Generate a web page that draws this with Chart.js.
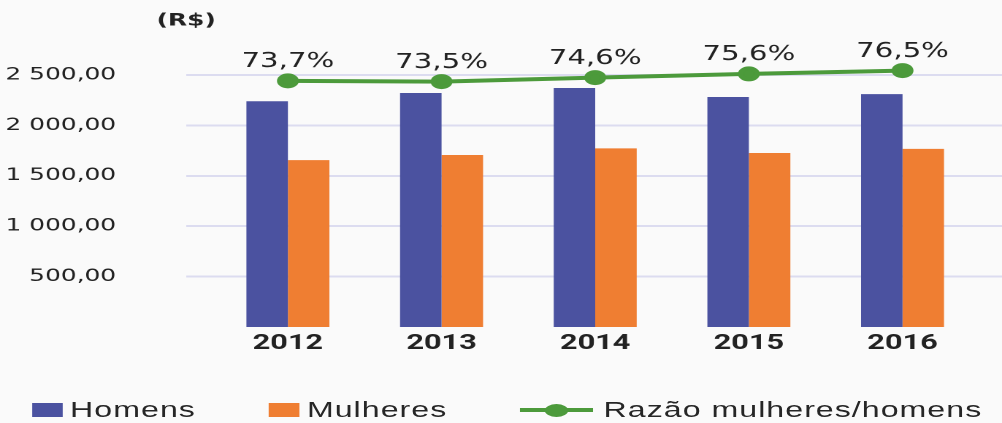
<!DOCTYPE html>
<html lang="pt-BR">
<head>
<meta charset="utf-8">
<title>Rendimento médio - homens e mulheres</title>
<script src="https://cdn.jsdelivr.net/npm/chart.js@4"></script>
<style>
  html, body { margin: 0; padding: 0; background: #fafafa; overflow: hidden; }
  /* o original vem esticado na horizontal: desenho em 686px e estico para 1002px */
  #quadro { position: relative; width: 686px; height: 423px; transform: scaleX(1.4606); transform-origin: 0 0; }
  #area { position: absolute; left: 0; top: 0; width: 686px; height: 423px; }
  #legenda { position: absolute; left: 22px; top: 397px; display: flex; align-items: center;
             font: 22px "Liberation Sans", Arial, sans-serif; letter-spacing: 0.7px; color: #262626; white-space: nowrap; }
  #legenda .caixa { display: inline-block; width: 21px; height: 14px; margin-right: 5px; }
  #legenda .texto { margin-right: 50px; }
  #legenda .texto:last-child { margin-right: 0; }
  #legenda .linha { position: relative; display: inline-block; width: 50px; height: 14px; margin-right: 7px; }
  #legenda .linha::before { content: ""; position: absolute; left: 0; right: 0; top: 5px; height: 4px; background: var(--cor); }
  #legenda .linha i { position: absolute; left: 17px; top: 0.5px; width: 16px; height: 13px; border-radius: 50%; background: var(--cor); }
</style>
</head>
<body>
<div id="quadro">
  <div id="area"><canvas id="grafico"></canvas></div>
  <div id="legenda">
    <span class="caixa" id="corHomens"></span><span class="texto">Homens</span>
    <span class="caixa" id="corMulheres"></span><span class="texto">Mulheres</span>
    <span class="linha" id="corRazao"><i></i></span><span class="texto">Razão mulheres/homens</span>
  </div>
</div>
<script>
const anos = ["2012", "2013", "2014", "2015", "2016"];
const homens = [2240, 2321, 2371, 2282, 2310];
const mulheres = [1655, 1706, 1772, 1726, 1767];
const razao = [73.7, 73.5, 74.6, 75.6, 76.5];
const ticksY = [500, 1000, 1500, 2000, 2500];

const AZUL = "#4b52a0";
const LARANJA = "#ef7e32";
const VERDE = "#4c9a3b";
const GRADE = "#dcdcf0";
const TEXTO = "#222";

document.getElementById("corHomens").style.background = AZUL;
document.getElementById("corMulheres").style.background = LARANJA;
document.getElementById("corRazao").style.setProperty("--cor", VERDE);

// 2500 -> "2 500,00"
function formataReais(v) {
  const [inteiro, dec] = v.toFixed(2).split(".");
  return inteiro.replace(/\B(?=(\d{3})+(?!\d))/g, " ") + "," + dec;
}

const extras = {
  id: "extras",
  beforeDatasetsDraw(chart) {
    // no original a grade segue até a borda direita
    const { ctx, chartArea, scales } = chart;
    const dpr = chart.currentDevicePixelRatio;
    ctx.save();
    ctx.strokeStyle = GRADE;
    ctx.lineWidth = 2;
    ticksY.forEach(v => {
      const y = Math.round((scales.y.getPixelForValue(v) - 1) * dpr) / dpr + 1;
      ctx.beginPath();
      ctx.moveTo(chartArea.right, y);
      ctx.lineTo(chart.width, y);
      ctx.stroke();
    });
    ctx.restore();
  },
  afterDatasetsDraw(chart) {
    const { ctx, chartArea } = chart;
    const pontos = chart.getDatasetMeta(2).data;
    ctx.save();
    ctx.fillStyle = TEXTO;
    ctx.textAlign = "center";
    ctx.textBaseline = "middle";
    ctx.font = '20px "DejaVu Sans"';
    pontos.forEach((p, i) => {
      ctx.fillText(razao[i].toFixed(1).replace(".", ",") + "%", p.x, p.y - 19);
    });
    ctx.font = 'bold 17px "DejaVu Sans"';
    ctx.fillText("(R$)", chartArea.left - 17, 21);
    ctx.restore();
  }
};

new Chart(document.getElementById("grafico"), {
  type: "bar",
  data: {
    labels: anos,
    datasets: [
      { type: "bar", label: "Homens", data: homens, backgroundColor: AZUL, order: 1 },
      { type: "bar", label: "Mulheres", data: mulheres, backgroundColor: LARANJA, order: 1 },
      {
        type: "line",
        label: "Razão mulheres/homens",
        data: razao,
        yAxisID: "y1",
        borderColor: VERDE,
        backgroundColor: VERDE,
        borderWidth: 4,
        pointRadius: 5.5,
        pointHoverRadius: 5.5,
        clip: false,
        order: 0
      }
    ]
  },
  options: {
    responsive: true,
    maintainAspectRatio: false,
    animation: false,
    devicePixelRatio: 2,
    layout: { padding: { top: 75, right: 15.5, bottom: 56, left: 0 } },
    datasets: { bar: { barPercentage: 1, categoryPercentage: 0.54 } },
    plugins: { legend: { display: false }, tooltip: { enabled: false } },
    scales: {
      x: {
        grid: { display: false, drawTicks: false },
        border: { display: false },
        ticks: {
          color: TEXTO,
          padding: 4,
          maxRotation: 0,
          font: { family: "Roboto", size: 21, weight: "bold" }
        },
        afterFit: s => { s.height = 40; }
      },
      y: {
        min: 0,
        max: 2500,
        border: { display: false },
        grid: { color: GRADE, lineWidth: 2, tickLength: 17 },
        ticks: {
          color: TEXTO,
          padding: 48,
          font: { family: "'DejaVu Sans'", size: 17 },
          callback: v => formataReais(v)
        },
        afterBuildTicks: s => { s.ticks = ticksY.map(v => ({ value: v })); },
        afterFit: s => { s.width = 144.5; }
      },
      y1: { display: false, min: 6.7, max: 75.3 }
    }
  },
  plugins: [extras]
});
</script>
</body>
</html>
